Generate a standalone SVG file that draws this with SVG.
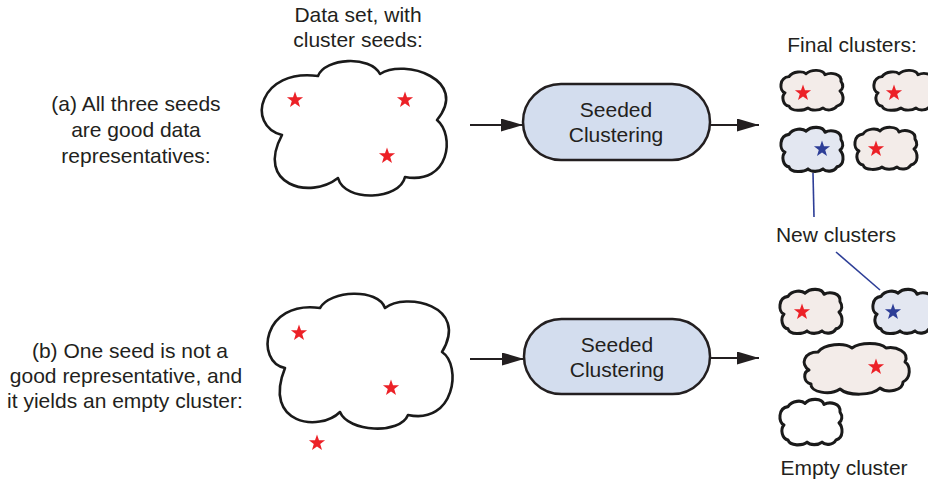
<svg xmlns="http://www.w3.org/2000/svg" xmlns:xlink="http://www.w3.org/1999/xlink" width="928" height="482" viewBox="0 0 928 482">
<style>
text{font-family:"Liberation Sans",Arial,Helvetica,sans-serif;font-size:21px;fill:#231f20;text-anchor:middle}
.cloud{fill:#fff;stroke:#1a1a1a;stroke-width:2.6;stroke-linejoin:round}
.pink{fill:#f3ece9;stroke:#1a1a1a;stroke-width:3;stroke-linejoin:round}
.blue{fill:#e3e7f1;stroke:#1a1a1a;stroke-width:3;stroke-linejoin:round}
.white{fill:#fff;stroke:#1a1a1a;stroke-width:3;stroke-linejoin:round}
.proc{fill:#d3ddee;stroke:#231f20;stroke-width:2.5}
.rs{fill:#ec2127}
.bs{fill:#2d3e97}
.arrow{stroke:#231f20;stroke-width:2.2;fill:none;marker-end:url(#ah)}
.lead{stroke:#2d3e97;stroke-width:1.6;fill:none}
</style>
<defs>
<marker id="ah" markerUnits="userSpaceOnUse" markerWidth="24" markerHeight="16" refX="22" refY="6.5" orient="auto">
<path d="M0,0 L22,6.5 L0,13 Z" fill="#231f20"/>
</marker>
<polygon id="star" points="0,-8.5 2,-2.75 8.08,-2.63 3.23,1.05 5,6.88 0,3.4 -5,6.88 -3.23,1.05 -8.08,-2.63 -2,-2.75"/>
<path id="sc" d="M6,24 C0,22 0,8 10,7 C14,1 24,1 27,4 C32,-1 44,-1 46,5 C52,2 63,4 62,12 C65,16 64,20 61,22 C65,26 66,36 58,38 C55,43 47,43 44,40 C40,43 32,43 29,40 C25,43 12,44 10,38 C4,37 2,28 6,24 Z"/>
</defs>

<g id="labels">
<text x="358" y="22">Data set, with</text>
<text x="358" y="47">cluster seeds:</text>
<text x="136" y="111">(a) All three seeds</text>
<text x="136" y="137">are good data</text>
<text x="136" y="163">representatives:</text>
<text x="130" y="358">(b) One seed is not a</text>
<text x="126" y="383">good representative, and</text>
<text x="125" y="408">it yields an empty cluster:</text>
<text x="852" y="52">Final clusters:</text>
<text x="836" y="242">New clusters</text>
<text x="844" y="475">Empty cluster</text>
</g>

<g id="dataset-a">
<path class="cloud" d="M282,135 C245,125 260,68 318,76 C325,58 370,55 380,74 C405,58 470,80 437,120 C455,135 450,185 405,177 C400,200 345,203 338,178 C310,200 255,185 282,135 Z"/>
<use xlink:href="#star" class="rs" transform="translate(295,100)"/>
<use xlink:href="#star" class="rs" transform="translate(405,100)"/>
<use xlink:href="#star" class="rs" transform="translate(387,156)"/>
</g>

<g id="dataset-b">
<path class="cloud" d="M285,368 C255,362 262,300 320,308 C330,290 378,288 385,308 C405,292 470,305 442,352 C462,365 455,425 408,415 C400,435 348,432 340,412 C320,432 262,425 285,368 Z"/>
<use xlink:href="#star" class="rs" transform="translate(299,333)"/>
<use xlink:href="#star" class="rs" transform="translate(391,388)"/>
<use xlink:href="#star" class="rs" transform="translate(317,443)"/>
</g>

<g id="process-a">
<rect class="proc" x="523" y="84" width="187" height="76" rx="38" ry="38"/>
<text x="616" y="117">Seeded</text>
<text x="616" y="142">Clustering</text>
</g>

<g id="process-b">
<rect class="proc" x="524" y="319" width="186" height="75" rx="37.5" ry="37.5"/>
<text x="617" y="352">Seeded</text>
<text x="617" y="377">Clustering</text>
</g>

<g id="final-a">
<use xlink:href="#sc" class="pink" transform="translate(779,70) scale(1,0.95)"/>
<use xlink:href="#star" class="rs" transform="translate(803,93)"/>
<use xlink:href="#sc" class="pink" transform="translate(872,70) scale(1,0.95)"/>
<use xlink:href="#star" class="rs" transform="translate(894,93)"/>
<use xlink:href="#sc" class="blue" transform="translate(779,127) scale(1,1.05)"/>
<use xlink:href="#star" class="bs" transform="translate(822,149)"/>
<use xlink:href="#sc" class="pink" transform="translate(853,127)"/>
<use xlink:href="#star" class="rs" transform="translate(876,149)"/>
</g>

<g id="final-b">
<use xlink:href="#sc" class="pink" transform="translate(778,289) scale(1,1.05)"/>
<use xlink:href="#star" class="rs" transform="translate(802,312)"/>
<use xlink:href="#sc" class="blue" transform="translate(871,289) scale(1,1.05)"/>
<use xlink:href="#star" class="bs" transform="translate(893,312)"/>
<path class="pink" d="M809,370 C800,364 804,352 818,352 C824,344 844,342 852,348 C860,342 880,342 886,348 C896,346 910,352 905,362 C911,366 911,378 903,382 C903,390 888,394 880,388 C872,396 848,396 840,389 C830,396 810,392 811,384 C803,382 803,372 809,370 Z"/>
<use xlink:href="#star" class="rs" transform="translate(876,367)"/>
<use xlink:href="#sc" class="white" transform="translate(778,399) scale(1,1.08)"/>
</g>

<g id="connectors">
<line class="arrow" x1="470" y1="125" x2="523" y2="125"/>
<line class="arrow" x1="710" y1="125" x2="759" y2="125"/>
<line class="arrow" x1="470" y1="359" x2="524" y2="359"/>
<line class="arrow" x1="710" y1="358" x2="759" y2="358"/>
<line class="lead" x1="813" y1="173" x2="814" y2="217"/>
<line class="lead" x1="836" y1="252" x2="880" y2="290"/>
</g>
</svg>
